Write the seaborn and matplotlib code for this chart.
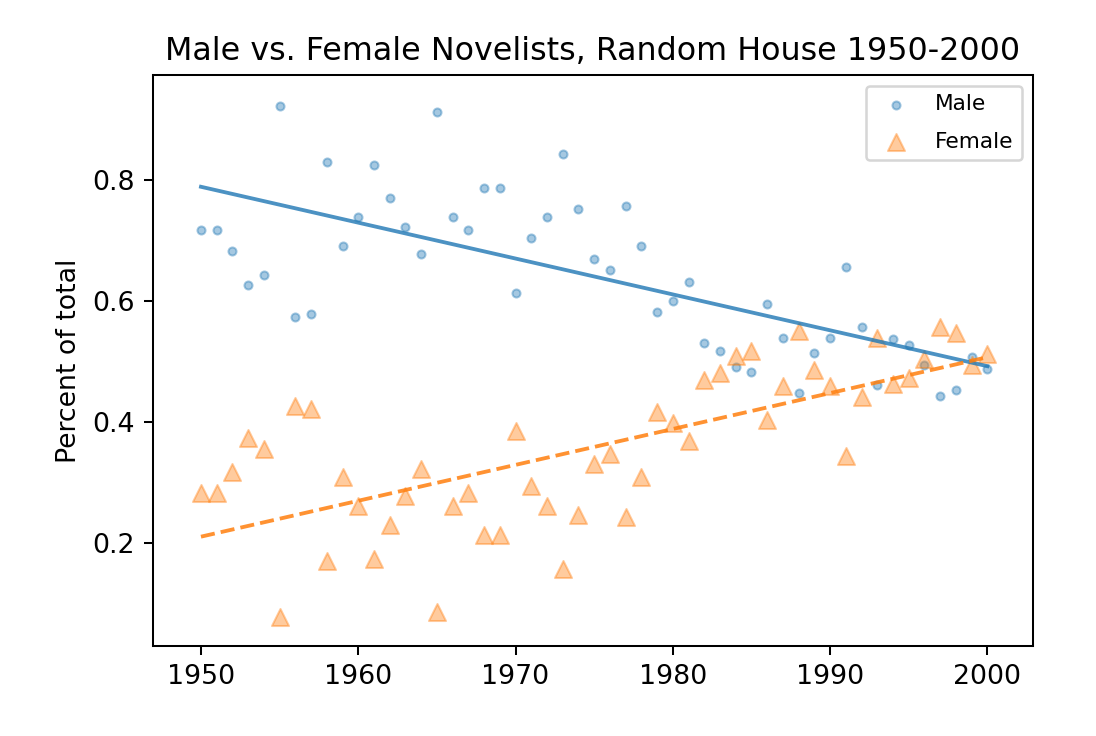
import pandas as pd
import numpy as np
import matplotlib
matplotlib.use("Agg")
import matplotlib.pyplot as plt
import seaborn as sns

years = list(range(1950, 2001))
male = [0.717, 0.717, 0.683, 0.626, 0.644, 0.922, 0.574, 0.579, 0.830, 0.691,
        0.739, 0.826, 0.770, 0.722, 0.678, 0.913, 0.739, 0.717, 0.787, 0.787,
        0.614, 0.705, 0.739, 0.843, 0.753, 0.669, 0.652, 0.757, 0.691, 0.583,
        0.601, 0.631, 0.531, 0.518, 0.491, 0.483, 0.596, 0.540, 0.449, 0.514,
        0.540, 0.656, 0.558, 0.461, 0.537, 0.527, 0.495, 0.443, 0.453, 0.507,
        0.488]
female = [0.283, 0.283, 0.317, 0.374, 0.356, 0.078, 0.426, 0.421, 0.170, 0.309,
          0.261, 0.174, 0.230, 0.278, 0.322, 0.087, 0.261, 0.283, 0.213, 0.213,
          0.386, 0.295, 0.261, 0.157, 0.247, 0.331, 0.348, 0.243, 0.309, 0.417,
          0.399, 0.369, 0.469, 0.482, 0.509, 0.517, 0.404, 0.460, 0.551, 0.486,
          0.460, 0.344, 0.442, 0.539, 0.463, 0.473, 0.505, 0.557, 0.547, 0.494,
          0.512]

df = pd.DataFrame({'Year': years, 'Male': male, 'Female': female})

dpi = 183
fig, ax = plt.subplots(figsize=(1096 / dpi, 736 / dpi), dpi=dpi)
fig.subplots_adjust(left=153 / 1096, right=1033 / 1096, top=1 - 75 / 736, bottom=1 - 646 / 736)

#scatter points
sns.scatterplot(data=df, x='Year', y='Male', color='tab:blue', marker='o', s=10,
                alpha=0.4, linewidth=0.8, edgecolor='tab:blue', label='Male', ax=ax)
sns.scatterplot(data=df, x='Year', y='Female', color='tab:orange', marker='^', s=45,
                alpha=0.4, linewidth=0.8, edgecolor='tab:orange', label='Female', ax=ax)

#fit lines
sns.regplot(data=df, x='Year', y='Male', scatter=False, ci=None, truncate=True, ax=ax,
            line_kws={'color': 'tab:blue', 'lw': 1.5, 'alpha': 0.8})
sns.regplot(data=df, x='Year', y='Female', scatter=False, ci=None, truncate=True, ax=ax,
            line_kws={'color': 'tab:orange', 'lw': 1.5, 'ls': '--', 'alpha': 0.85})

ax.set_xlim(1946.95, 2002.9)
ax.set_ylim(0.030, 0.974)
ax.set_title('Male vs. Female Novelists, Random House 1950-2000', fontsize=12.5)
ax.set_ylabel('Percent of total', fontsize=10.5)
ax.set_xlabel('')
ax.set_yticks([0.2, 0.4, 0.6, 0.8])
ax.tick_params(labelsize=10.5)
ax.legend(loc='upper right', fontsize=8.5, labelspacing=0.8)

fig.savefig('out.png', dpi=dpi)
